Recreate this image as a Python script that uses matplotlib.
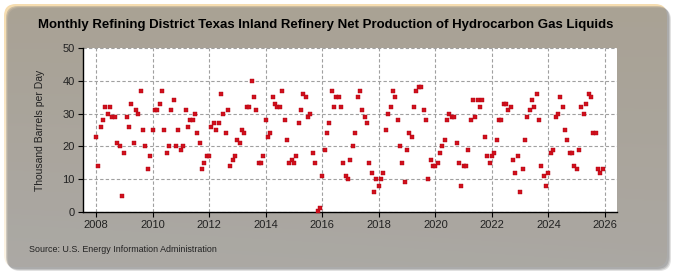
import numpy as np
import matplotlib
matplotlib.use("Agg")
import matplotlib.pyplot as plt
from matplotlib.patches import FancyBboxPatch

# ---- data (thousand barrels per day), monthly, Jan..Dec ----
years = list(range(2008, 2026))
v2008 = [23, 14, 26, 28, 32, 30, 32, 29, 29, 21, 20, 5]
v2009 = [18, 29, 26, 33, 21, 31, 30, 37, 25, 20, 13, 17]
v2010 = [25, 31, 31, 33, 37, 25, 18, 20, 31, 34, 20, 25]
v2011 = [19, 20, 31, 26, 28, 28, 30, 24, 21, 13, 15, 17]
v2012 = [17, 26, 27, 25, 27, 36, 30, 24, 31, 14, 16, 17]
v2013 = [22, 21, 25, 24, 32, 32, 40, 35, 31, 15, 15, 17]
v2014 = [28, 23, 24, 35, 33, 32, 32, 37, 28, 22, 15, 16]
v2015 = [15, 17, 27, 31, 36, 35, 29, 30, 18, 15, 0.4, 1.3]
v2016 = [11, 19, 24, 27, 37, 32, 35, 35, 32, 15, 11, 10]
v2017 = [16, 20, 24, 35, 37, 31, 29, 27, 15, 12, 6, 10]
v2018 = [8, 10, 12, 25, 30, 32, 37, 35, 28, 20, 15, 9]
v2019 = [19, 24, 23, 32, 37, 38, 38, 31, 28, 10, 16, 14]
v2020 = [14, 15, 18, 20, 22, 28, 30, 29, 29, 21, 15, 8]
v2021 = [14, 14, 19, 28, 34, 29, 34, 32, 34, 23, 17, 15]
v2022 = [17, 18, 22, 28, 28, 33, 33, 31, 32, 16, 12, 17]
v2023 = [6, 13, 22, 29, 31, 34, 32, 36, 28, 14, 11, 8]
v2024 = [12, 18, 19, 29, 30, 35, 32, 25, 22, 18, 18, 14]
v2025 = [13, 19, 32, 30, 33, 36, 35, 24, 24, 13, 12, 13]
yearly = [v2008, v2009, v2010, v2011, v2012, v2013, v2014, v2015, v2016,
          v2017, v2018, v2019, v2020, v2021, v2022, v2023, v2024, v2025]

x_ticks = list(range(2008, 2027, 2))
y_ticks = [0, 10, 20, 30, 40, 50]

title = "Monthly Refining District Texas Inland Refinery Net Production of Hydrocarbon Gas Liquids"
ylabel = "Thousand Barrels per Day"
source = "Source: U.S. Energy Information Administration"

REG = ["Liberation Sans", "DejaVu Sans"]

xs = []
ys = []
for yr, vals in zip(years, yearly):
    for m, v in enumerate(vals):
        xs.append(yr + m / 12.0)
        ys.append(v)

W, H = 675, 275
fig = plt.figure(figsize=(W / 100, H / 100), dpi=100, facecolor="white")

# ---- background panel with rounded corners, gradient and shadow ----
bg = fig.add_axes([0, 0, 1, 1], zorder=-10)
bg.set_xlim(0, W)
bg.set_ylim(H, 0)
bg.axis("off")
for off, alpha in [(4, 0.25), (3, 0.35), (2, 0.4)]:
    sh = FancyBboxPatch((4 + off, 4 + off), 663, 263,
                        boxstyle="round,pad=0,rounding_size=12",
                        facecolor="#8a8a8a", edgecolor="none", alpha=alpha)
    bg.add_patch(sh)
box = FancyBboxPatch((4, 4), 663, 263, boxstyle="round,pad=0,rounding_size=12",
                     facecolor="none", edgecolor="none")
bg.add_patch(box)
ny, nx = 120, 200
gy = np.linspace(0, 1, ny)[:, None]
gx = np.linspace(0, 1, nx)[None, :]
t = np.clip(0.8 * gy + 0.15 * (1 - gx) * gy, 0, 1)
top = np.array([246, 221, 176]) / 255.0
bot = np.array([253, 246, 234]) / 255.0
img = top[None, None, :] * (1 - t[..., None]) + bot[None, None, :] * t[..., None]
im = bg.imshow(img, extent=(4, 667, 267, 4), aspect="auto", interpolation="bilinear")
im.set_clip_path(box)

# ---- main plot ----
ax = fig.add_axes([83 / W, 1 - 212 / H, (617 - 83) / W, (212 - 48) / H])
ax.set_facecolor("white")
ax.scatter(xs, ys, marker="s", s=9, color="#d0101c", edgecolors="#b00010",
           linewidths=0.3, zorder=3, clip_on=False)

ax.set_xlim(2008 - 13 / 28.29, 2026 + 12 / 28.29)
ax.set_ylim(0, 50)
ax.set_xticks(x_ticks)
ax.set_yticks(y_ticks)
ax.grid(True, color="#a0a0a0", linestyle=(0, (3, 2)), linewidth=0.8)
ax.set_axisbelow(True)
for s in ["top", "right"]:
    ax.spines[s].set_visible(False)
for s in ["left", "bottom"]:
    ax.spines[s].set_color("black")
    ax.spines[s].set_linewidth(1.0)
ax.tick_params(axis="both", labelsize=8, length=3.5, width=0.8, color="black",
               labelcolor="#222222", pad=2.5)
for lab in ax.get_xticklabels() + ax.get_yticklabels():
    lab.set_family(REG)

fig.text(40 / W, 1 - 130 / H, ylabel, rotation=90, ha="center", va="center",
         fontsize=7.5, family=REG, color="#222222")
fig.text(326 / W, 1 - 25 / H, title, ha="center", va="center", fontsize=9.5,
         fontweight="bold", family=REG)
fig.text(29 / W, 1 - 250 / H, source, ha="left", va="center", fontsize=6.4,
         family=REG, color="#222222")

fig.savefig("out.png", dpi=100, facecolor="white")
